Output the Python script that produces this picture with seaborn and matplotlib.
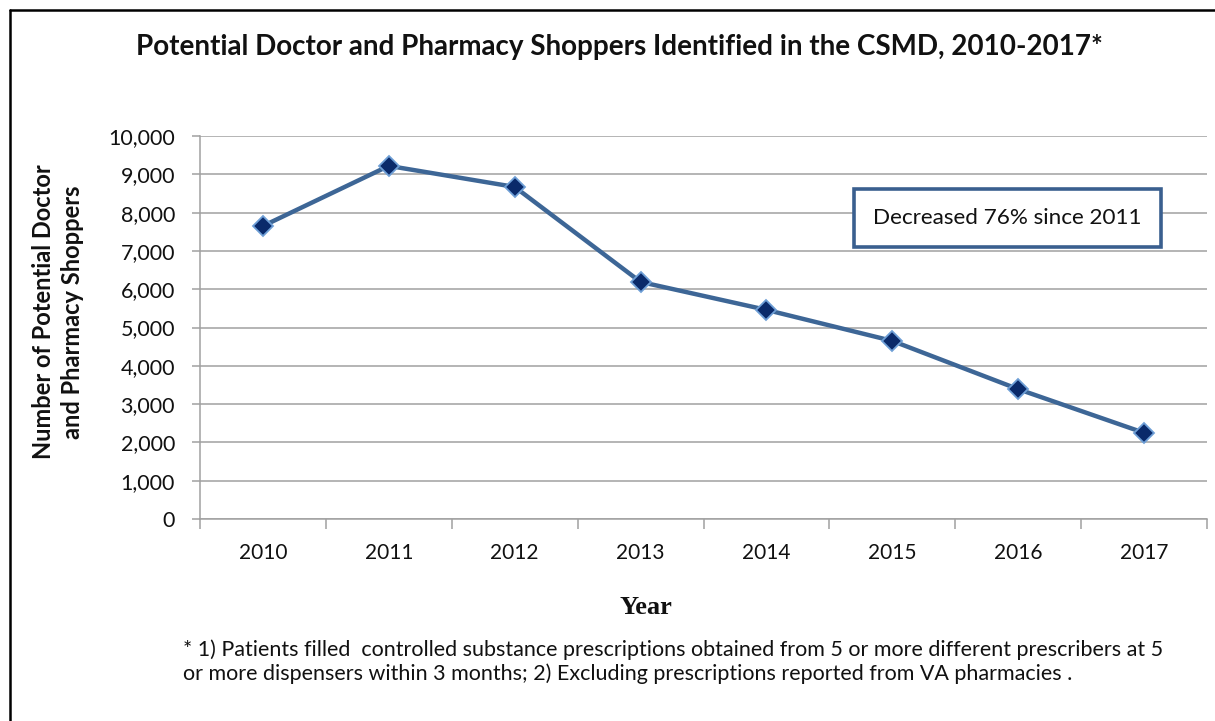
import matplotlib
matplotlib.use("Agg")
import matplotlib.pyplot as plt
from matplotlib.lines import Line2D
from matplotlib.ticker import FuncFormatter, MultipleLocator
import seaborn as sns
import pandas as pd

# Potential doctor/pharmacy shoppers per year
years = ["2010", "2011", "2012", "2013", "2014", "2015", "2016", "2017"]
shoppers = [7650, 9220, 8670, 6190, 5460, 4650, 3390, 2250]

title = "Potential Doctor and Pharmacy Shoppers Identified in the CSMD, 2010-2017*"
ylabel = "Number of Potential Doctor\nand Pharmacy Shoppers"
xlabel = "Year"
note = "Decreased 76% since 2011"
footnote = ("* 1) Patients filled  controlled substance prescriptions obtained from 5 or more different prescribers at 5\n"
            "or more dispensers within 3 months; 2) Excluding prescriptions reported from VA pharmacies .")

df = pd.DataFrame({"year": years, "shoppers": shoppers})

sns.set_theme(style="white")
plt.rcParams["font.family"] = ["Lato", "DejaVu Sans"]

W, H = 1215, 721
fig = plt.figure(figsize=(W / 100, H / 100), dpi=100)
ax = fig.add_axes([200 / W, 1 - 519 / H, (1207 - 200) / W, (519 - 136) / H])

grid_c = "#a0a0a0"
line_c = "#3d6696"

sns.lineplot(data=df, x="year", y="shoppers", ax=ax, color=line_c, linewidth=3.2,
             marker="D", markersize=10, markerfacecolor="#0a2a6a",
             markeredgecolor="#6e9fd6", markeredgewidth=1.3, sort=False, zorder=3)

ax.set_xlim(-0.5, len(years) - 0.5)
ax.set_ylim(0, 10000)
ax.yaxis.set_major_locator(MultipleLocator(1000))
ax.yaxis.set_major_formatter(FuncFormatter(lambda v, p: f"{int(v):,}"))
ax.grid(axis="y", color=grid_c, linewidth=1.1)
ax.grid(axis="x", visible=False)
ax.set_axisbelow(True)

for side in ["top", "right"]:
    ax.spines[side].set_visible(False)
for side in ["left", "bottom"]:
    ax.spines[side].set_color(grid_c)
    ax.spines[side].set_linewidth(1.1)

# x ticks sit between categories
ax.set_xticks(range(len(years)))
ax.set_xticklabels(years)
ax.set_xticks([i - 0.5 for i in range(len(years) + 1)], minor=True)
ax.tick_params(axis="x", which="major", length=0, pad=17, labelsize=15, labelcolor="#111111")
ax.tick_params(axis="x", which="minor", length=7, width=1.1, color=grid_c, direction="out")
ax.tick_params(axis="y", which="major", length=6, width=1.1, color=grid_c, direction="out",
               pad=12, labelsize=15.5, labelcolor="#111111")
ax.tick_params(axis="y", left=True)
ax.tick_params(axis="x", which="minor", bottom=True)

ax.set_xlabel("")
ax.set_ylabel("")

fig.text(619 / W, 1 - 47 / H, title, ha="center", va="center", fontsize=20,
         fontweight="bold", color="#111111")
fig.text(58 / W, 1 - 312 / H, ylabel, ha="center", va="center", rotation=90,
         fontsize=17, fontweight="bold", color="#111111", linespacing=1.35)
fig.text(646 / W, 1 - 607 / H, xlabel, ha="center", va="center", fontsize=19,
         fontweight="bold", family="Liberation Serif", color="#111111")
fig.text(183 / W, 1 - 662 / H, footnote, ha="left", va="center", fontsize=15.5,
         color="#111111", linespacing=1.2)

ax.text(0.802, 0.786, note, transform=ax.transAxes, ha="center", va="center",
        fontsize=16.2, color="#111111",
        bbox=dict(boxstyle="square,pad=0.85", facecolor="white",
                  edgecolor="#3a5f8f", linewidth=2.6))

# outer frame along top and left edges
fig.add_artist(Line2D([10 / W, 10 / W], [0, 1 - 10 / H], transform=fig.transFigure,
                      color="black", linewidth=1.8))
fig.add_artist(Line2D([10 / W, 1], [1 - 10 / H, 1 - 10 / H], transform=fig.transFigure,
                      color="black", linewidth=1.8))

fig.savefig("out.png", dpi=100, facecolor="white")
